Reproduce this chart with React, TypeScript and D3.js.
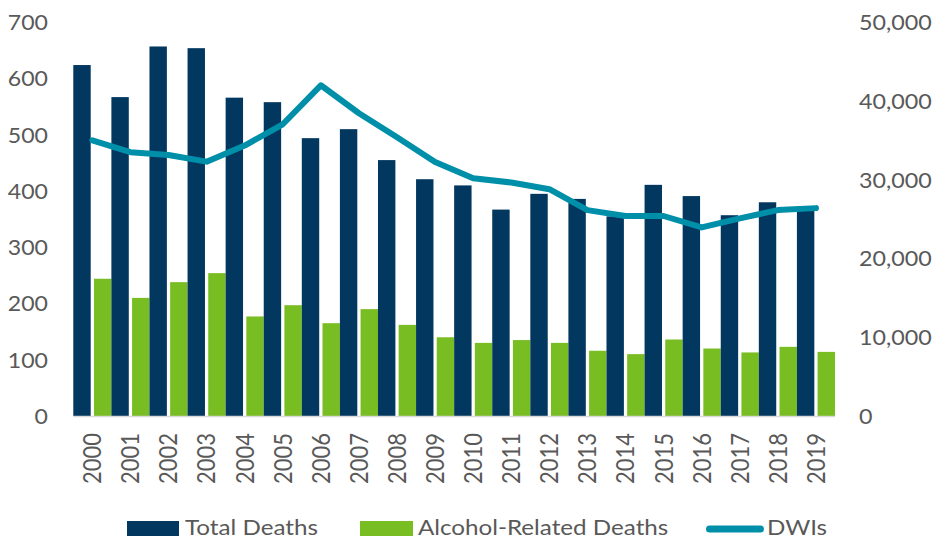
import React from "react";
import * as d3 from "d3";

const years = ["2000","2001","2002","2003","2004","2005","2006","2007","2008","2009","2010","2011","2012","2013","2014","2015","2016","2017","2018","2019"];
const totalDeaths = [624,567,657,654,566,558,494,510,455,421,410,367,395,386,355,411,391,357,380,370];
const alcoholDeaths = [244,210,238,254,177,197,165,190,162,140,130,135,130,116,110,136,120,113,123,114];
const dwis = [35000,33500,33150,32300,34350,37050,42000,38450,35400,32250,30200,29650,28800,26150,25400,25400,23950,25100,26150,26400];
const leftTicks = [0,100,200,300,400,500,600,700];
const rightTicks = [0,10000,20000,30000,40000,50000];

const W = 936, H = 539;
const X0 = 73.3, X1 = 835, Y0 = 416, Y1 = 22.3;
const NAVY = "#02375f", GREEN = "#78bd21", TEAL = "#008fa8", TXT = "#595959";
const FONT = "Lato, 'Open Sans', sans-serif";

export default function App() {
  const x = d3.scaleBand<string>().domain(years).range([X0, X1]).paddingInner(0).paddingOuter(0);
  const yL = d3.scaleLinear().domain([0, 700]).range([Y0, Y1]);
  const yR = d3.scaleLinear().domain([0, 50000]).range([Y0, Y1]);
  const bw = x.bandwidth();
  const barW = bw * 0.457;
  const fmt = d3.format(",");
  const line = d3.line<number>()
    .x((_, i) => (x(years[i]) as number) + bw / 2)
    .y((d) => yR(d));

  const T = (props: { x: number; y: number; anchor?: string; rot?: boolean; dy?: string; size: number; sx: number; children: any }) => (
    <g transform={`translate(${props.x},${props.y}) scale(${props.sx},1)${props.rot ? " rotate(-90)" : ""}`}>
      <text x={0} y={0} dy={props.dy} textAnchor={props.anchor || "start"} fontFamily={FONT} fontSize={props.size} fill={TXT}>
        {props.children}
      </text>
    </g>
  );

  return (
    <svg width={W} height={H} style={{ position: "absolute", left: 0, top: 0, background: "#fff" }}>
      {years.map((yr, i) => (
        <g key={yr}>
          <rect x={x(yr) as number} y={yL(totalDeaths[i])} width={barW} height={Y0 - yL(totalDeaths[i])} fill={NAVY} />
          <rect x={(x(yr) as number) + bw - barW} y={yL(alcoholDeaths[i])} width={barW} height={Y0 - yL(alcoholDeaths[i])} fill={GREEN} />
        </g>
      ))}
      <line x1={X0} x2={X1} y1={Y0 + 0.5} y2={Y0 + 0.5} stroke="#d9d9d9" strokeWidth={1.5} />
      <path d={line(dwis) || ""} fill="none" stroke={TEAL} strokeWidth={6} strokeLinejoin="round" strokeLinecap="round" />
      {leftTicks.map((t) => (
        <T key={"l" + t} x={48} y={yL(t)} anchor="end" dy="0.36em" size={22} sx={1.05}>{fmt(t)}</T>
      ))}
      {rightTicks.map((t) => (
        <T key={"r" + t} x={859} y={yR(t)} anchor="start" dy="0.36em" size={22} sx={1.06}>{fmt(t)}</T>
      ))}
      {years.map((yr) => (
        <T key={"x" + yr} x={(x(yr) as number) + bw / 2} y={433} anchor="end" rot dy="0.36em" size={22} sx={1.12}>{yr}</T>
      ))}
      <rect x={127} y={521} width={52} height={15} fill={NAVY} />
      <T x={185} y={534.5} size={22} sx={1.1}>Total Deaths</T>
      <rect x={360} y={521} width={53} height={15} fill={GREEN} />
      <T x={418} y={534.5} size={22} sx={1.1}>Alcohol-Related Deaths</T>
      <line x1={709.5} x2={760.5} y1={529} y2={529} stroke={TEAL} strokeWidth={7} strokeLinecap="round" />
      <T x={767} y={534.5} size={22} sx={1.1}>DWIs</T>
    </svg>
  );
}
